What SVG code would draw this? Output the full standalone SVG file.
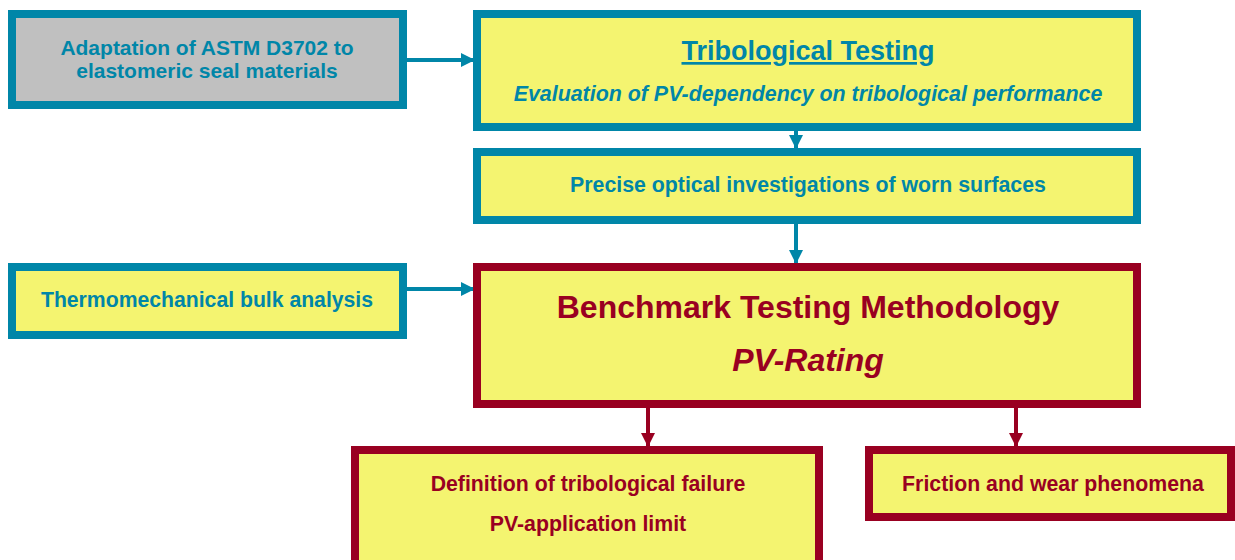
<svg xmlns="http://www.w3.org/2000/svg" width="1235" height="560" viewBox="0 0 1235 560">
<defs>
<style>
.t{fill:#f4f470;stroke:#0086a8;stroke-width:8}
.g{fill:#c0c0c0;stroke:#0086a8;stroke-width:8}
.r{fill:#f4f470;stroke:#990021;stroke-width:8}
text{font-family:"Liberation Sans",Arial,sans-serif;font-weight:bold;text-anchor:middle}
.tt{fill:#0086a8}
.rt{fill:#990021}
.ct{stroke:#0086a8;stroke-width:4;fill:none}
.cr{stroke:#990021;stroke-width:4;fill:none}
</style>
<marker id="at" viewBox="0 0 10 10" refX="10" refY="5" markerWidth="14" markerHeight="14" markerUnits="userSpaceOnUse" orient="auto"><path d="M0,0L10,5L0,10z" fill="#0086a8"/></marker>
<marker id="ar" viewBox="0 0 10 10" refX="10" refY="5" markerWidth="14" markerHeight="14" markerUnits="userSpaceOnUse" orient="auto"><path d="M0,0L10,5L0,10z" fill="#990021"/></marker>
</defs>
<rect width="1235" height="560" fill="#fff"/>
<g id="connectors">
<path class="ct" d="M407,60H475" marker-end="url(#at)"/>
<path class="ct" d="M796,131V149" marker-end="url(#at)"/>
<path class="ct" d="M796,224V264" marker-end="url(#at)"/>
<path class="ct" d="M407,289H475" marker-end="url(#at)"/>
<path class="cr" d="M648,408V447" marker-end="url(#ar)"/>
<path class="cr" d="M1016,408V447" marker-end="url(#ar)"/>
</g>
<g id="adaptation">
<rect class="g" x="12" y="14" width="391" height="91"/>
<text class="tt" x="207" y="55" font-size="21">Adaptation of ASTM D3702 to</text>
<text class="tt" x="207" y="78" font-size="21">elastomeric seal materials</text>
</g>
<g id="tribological">
<rect class="t" x="477" y="14" width="660" height="113"/>
<text class="tt" x="808" y="60" font-size="27" text-decoration="underline">Tribological Testing</text>
<text class="tt" x="808" y="101" font-size="21.4" font-style="italic">Evaluation of PV-dependency on tribological performance</text>
</g>
<g id="optical">
<rect class="t" x="477" y="152" width="660" height="68"/>
<text class="tt" x="808" y="192" font-size="21.3">Precise optical investigations of worn surfaces</text>
</g>
<g id="thermo">
<rect class="t" x="12" y="267" width="391" height="68"/>
<text class="tt" x="207" y="307" font-size="21.2">Thermomechanical bulk analysis</text>
</g>
<g id="benchmark">
<rect class="r" x="477" y="267" width="660" height="137"/>
<text class="rt" x="808" y="318" font-size="32">Benchmark Testing Methodology</text>
<text class="rt" x="808" y="371" font-size="32" font-style="italic">PV-Rating</text>
</g>
<g id="definition">
<rect class="r" x="355" y="450" width="464" height="140"/>
<text class="rt" x="588" y="491" font-size="21.3">Definition of tribological failure</text>
<text class="rt" x="588" y="531" font-size="21.3">PV-application limit</text>
</g>
<g id="friction">
<rect class="r" x="869" y="450" width="362" height="67"/>
<text class="rt" x="1053" y="491" font-size="21.3">Friction and wear phenomena</text>
</g>
</svg>
